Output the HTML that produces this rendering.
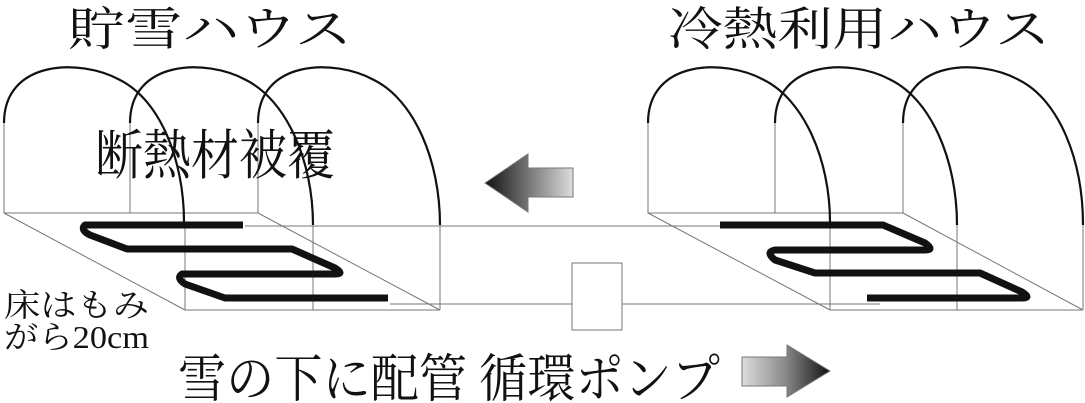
<!DOCTYPE html>
<html><head><meta charset="utf-8"><style>
html,body{margin:0;padding:0;background:#fff;width:1085px;height:403px;overflow:hidden}
svg{display:block}
text{font-family:"Liberation Serif","Noto Serif CJK SC","Noto Sans CJK JP",serif;fill:#111}
</style></head><body>
<svg width="1085" height="403" viewBox="0 0 1085 403" xmlns="http://www.w3.org/2000/svg">
<defs>
<linearGradient id="gl" x1="0" x2="1" y1="0" y2="0"><stop offset="0" stop-color="#111"/><stop offset="0.5" stop-color="#777"/><stop offset="1" stop-color="#ddd"/></linearGradient>
<linearGradient id="gr" x1="0" x2="1" y1="0" y2="0"><stop offset="0" stop-color="#ddd"/><stop offset="0.5" stop-color="#888"/><stop offset="1" stop-color="#111"/></linearGradient>
</defs>
<g fill="none" stroke="#777" stroke-width="1">
<!-- left house thin lines -->
<polyline points="4,123 4,213 258,213 258,123"/>
<line x1="130" y1="123" x2="130" y2="213"/>
<line x1="4" y1="213" x2="185" y2="310"/>
<line x1="258" y1="213" x2="440" y2="310"/>
<line x1="185" y1="222" x2="185" y2="310"/>
<line x1="313" y1="225" x2="313" y2="310"/>
<line x1="440" y1="225" x2="440" y2="310"/>
<line x1="185" y1="310" x2="440" y2="310"/>
<line x1="245" y1="226" x2="720" y2="226"/>
<line x1="390" y1="304" x2="880" y2="304"/>
<!-- right house thin lines -->
<polyline points="648,123 648,213 903,213 903,123"/>
<line x1="775" y1="123" x2="775" y2="213"/>
<line x1="648" y1="213" x2="830" y2="310"/>
<line x1="903" y1="213" x2="1083" y2="310"/>
<line x1="830" y1="222" x2="830" y2="310"/>
<line x1="957" y1="225" x2="957" y2="310"/>
<line x1="1083" y1="225" x2="1083" y2="310"/>
<line x1="830" y1="310" x2="1083" y2="310"/>
</g>
<rect x="572" y="263" width="50" height="67" fill="#fff" stroke="#777"/>
<g fill="none" stroke="#111" stroke-width="2.2">
<path d="M4,123 C4,60 80,58 120,80 C160,100 184,160 184,222"/>
<path d="M130,123 C130,60 206,58 246,80 C286,100 313,160 313,225"/>
<path d="M258,123 C258,60 334,58 374,80 C414,100 440,160 440,225"/>
<path d="M648,123 C648,60 724,58 764,80 C804,100 830,160 830,222"/>
<path d="M775,123 C775,60 851,58 891,80 C931,100 957,160 957,225"/>
<path d="M903,123 C903,60 979,58 1019,80 C1059,100 1083,160 1083,225"/>
</g>
<g fill="none" stroke="#111" stroke-width="7" stroke-linejoin="round">
<path d="M243,225 L85,225 Q80,230 90,235 L127,249 L292,249 L335,268 Q345,274 335,274 L182,274 Q176,278 185,284 L225,298 L388,298"/>
<path d="M720,225 L883,225 L925,243 Q935,250 925,250 L775,250 Q765,252 775,260 L815,273 L980,273 L1022,292 Q1032,298 1022,298 L867,298"/>
</g>
<polygon points="485,183 528,154 528,168 573,168 573,197 528,197 528,212" fill="url(#gl)" stroke="#777"/>
<polygon points="830,371 787,345 787,357 742,357 742,386 787,386 787,397" fill="url(#gr)" stroke="#777"/>
<text x="68" y="45" font-size="46" textLength="284" lengthAdjust="spacingAndGlyphs">貯雪ハウス</text>
<text x="668" y="45" font-size="46" textLength="382" lengthAdjust="spacingAndGlyphs">冷熱利用ハウス</text>
<text x="95" y="174" font-size="54" textLength="240" lengthAdjust="spacingAndGlyphs">断熱材被覆</text>
<text x="4" y="316" font-size="32" textLength="145" lengthAdjust="spacingAndGlyphs">床はもみ</text>
<text x="4" y="348" font-size="32" textLength="145" lengthAdjust="spacingAndGlyphs">がら20cm</text>
<text x="178" y="397" font-size="52" textLength="542" lengthAdjust="spacingAndGlyphs">雪の下に配管 循環ポンプ</text>
</svg>
</body></html>
